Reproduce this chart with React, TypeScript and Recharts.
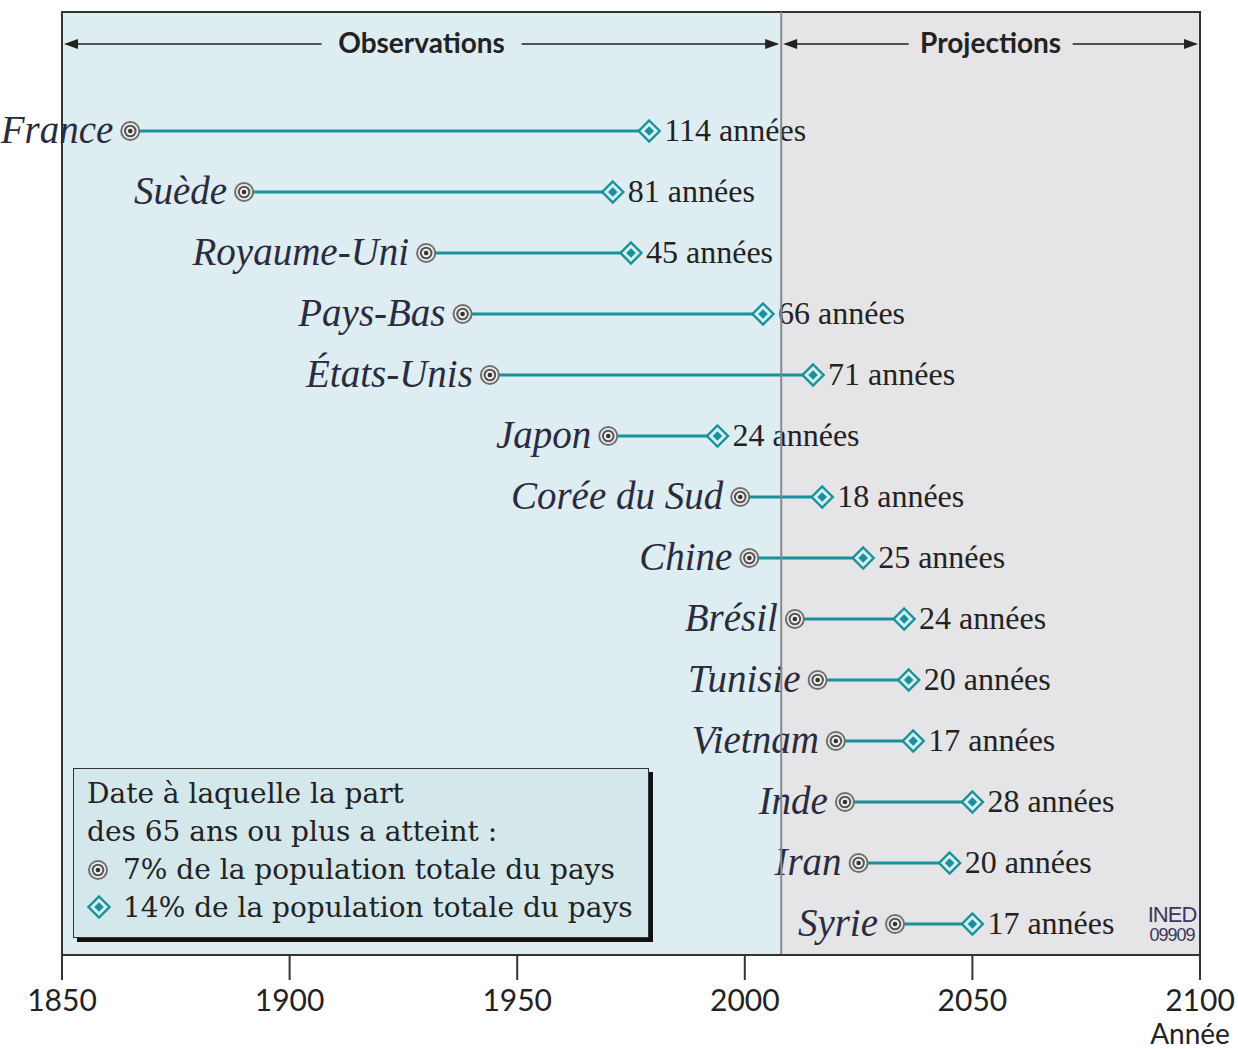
import React from "react";
import { ComposedChart, Bar, XAxis, YAxis, ReferenceArea, ReferenceLine } from "recharts";

const countries = ["France", "Suède", "Royaume-Uni", "Pays-Bas", "États-Unis", "Japon", "Corée du Sud", "Chine", "Brésil", "Tunisie", "Vietnam", "Inde", "Iran", "Syrie"];
const year7 = [1865, 1890, 1930, 1938, 1944, 1970, 1999, 2001, 2011, 2016, 2020, 2022, 2025, 2033];
const year14 = [1979, 1971, 1975, 2004, 2015, 1994, 2017, 2026, 2035, 2036, 2037, 2050, 2045, 2050];
const durations = [114, 81, 45, 66, 71, 24, 18, 25, 24, 20, 17, 28, 20, 17];
const xTicks = [1850, 1900, 1950, 2000, 2050, 2100];
const splitYear = 2008;

const rows = countries.map((c, i) => ({
    country: c,
    range: [year7[i], year14[i]],
    years: durations[i],
}));

const SERIF = "'Liberation Serif', 'DejaVu Serif', serif";
const LEGEND_SERIF = "'DejaVu Serif', serif";
const SANS = "Lato, 'Open Sans', sans-serif";
const TEAL = "#17919b";
const BLUE_BG = "#deedf2";
const GREY_BG = "#e5e4e7";

function Target({ cx, cy }: { cx: number; cy: number }) {
    return (
        <g>
            <circle cx={cx} cy={cy} r={10} fill="#6f6f6f" />
            <circle cx={cx} cy={cy} r={8} fill="#efefef" />
            <circle cx={cx} cy={cy} r={6.3} fill="#555" />
            <circle cx={cx} cy={cy} r={4.3} fill="#efefef" />
            <circle cx={cx} cy={cy} r={2.3} fill="#333" />
        </g>
    );
}

function Diamond({ cx, cy }: { cx: number; cy: number }) {
    const d = (s: number) => `M${cx},${cy - s} L${cx + s},${cy} L${cx},${cy + s} L${cx - s},${cy} Z`;
    return (
        <g>
            <path d={d(10.5)} fill="#d6eef0" stroke={TEAL} strokeWidth={2.4} />
            <path d={d(4.8)} fill={TEAL} />
        </g>
    );
}

function RowMark(props: any) {
    const { x, y, width, height, payload } = props;
    const cy = y + height / 2;
    const x0 = x;
    const x1 = x + width;
    return (
        <g>
            <line x1={x0} y1={cy} x2={x1} y2={cy} stroke={TEAL} strokeWidth={3} />
            <Target cx={x0} cy={cy} />
            <Diamond cx={x1} cy={cy} />
            <text x={x0 - 17} y={cy + 12} textAnchor="end" fontFamily={SERIF} fontStyle="italic" fontSize={39} fill="#2b2b40">
                {payload.country}
            </text>
            <text x={x1 + 15} y={cy + 10} fontFamily={SERIF} fontSize={32} fill="#222">
                {payload.years} années
            </text>
        </g>
    );
}

function HeaderArrow(props: any) {
    const { viewBox, text, half } = props;
    const { x, y, width } = viewBox;
    const ay = y + 32;
    const mid = x + width / 2;
    return (
        <g>
            <line x1={x + 4} y1={ay} x2={mid - half} y2={ay} stroke="#222" strokeWidth={1.5} />
            <line x1={mid + half} y1={ay} x2={x + width - 4} y2={ay} stroke="#222" strokeWidth={1.5} />
            <path d={`M${x + 2},${ay} L${x + 16},${ay - 5} L${x + 16},${ay + 5} Z`} fill="#222" />
            <path d={`M${x + width - 2},${ay} L${x + width - 16},${ay - 5} L${x + width - 16},${ay + 5} Z`} fill="#222" />
            <text x={mid} y={ay + 9} textAnchor="middle" fontFamily={SANS} fontWeight={700} fontSize={28} fill="#222">
                {text}
            </text>
        </g>
    );
}

function AnneeLabel(props: any) {
    const { viewBox } = props;
    return (
        <text x={viewBox.x + viewBox.width - 10} y={viewBox.y + 89} textAnchor="middle" fontFamily={SANS} fontSize={28} fill="#222">
            Année
        </text>
    );
}

export default function App() {
    return (
        <div style={{ position: "absolute", left: 0, top: 0, width: 1238, height: 1049, background: "#fff" }}>
            <ComposedChart
                width={1238}
                height={1049}
                data={rows}
                layout="vertical"
                margin={{ top: 12, right: 38, bottom: 0, left: 62 }}
            >
                <XAxis
                    type="number"
                    domain={[1850, 2100]}
                    ticks={xTicks}
                    height={94}
                    tickSize={25}
                    tickMargin={10}
                    axisLine={{ stroke: "#333", strokeWidth: 2 }}
                    tickLine={{ stroke: "#333", strokeWidth: 2 }}
                    tick={{ fill: "#222", fontSize: 30, fontFamily: SANS }}
                    label={<AnneeLabel />}
                />
                <YAxis type="category" dataKey="country" hide width={0} padding={{ top: 88, bottom: 1 }} />
                <YAxis yAxisId="frame" type="number" domain={[0, 1]} hide width={0} />
                <ReferenceArea
                    yAxisId="frame"
                    x1={1850}
                    x2={splitYear}
                    fill={BLUE_BG}
                    fillOpacity={1}
                    label={<HeaderArrow text="Observations" half={100} />}
                />
                <ReferenceArea
                    yAxisId="frame"
                    x1={splitYear}
                    x2={2100}
                    fill={GREY_BG}
                    fillOpacity={1}
                    label={<HeaderArrow text="Projections" half={82} />}
                />
                <ReferenceLine yAxisId="frame" x={splitYear} stroke="#8a8a8a" strokeWidth={2} />
                <ReferenceArea yAxisId="frame" x1={1850} x2={2100} fill="none" stroke="#333" strokeWidth={2} />
                <Bar dataKey="range" barSize={20} isAnimationActive={false} shape={(p: any) => <RowMark {...p} />} />
            </ComposedChart>
            <div
                style={{
                    position: "absolute",
                    left: 73,
                    top: 768,
                    width: 576,
                    height: 170,
                    boxSizing: "border-box",
                    background: "#d4e7eb",
                    border: "1.5px solid #333",
                    boxShadow: "4px 4px 0 #111",
                    fontFamily: LEGEND_SERIF,
                    fontSize: 28,
                    lineHeight: "38px",
                    color: "#222",
                    padding: "6px 0 0 13px",
                    whiteSpace: "nowrap",
                }}
            >
                <div>Date à laquelle la part</div>
                <div>des 65 ans ou plus a atteint :</div>
                <div>
                    <svg width={22} height={22} style={{ marginRight: 14, verticalAlign: "-2px" }}>
                        <Target cx={11} cy={11} />
                    </svg>
                    7% de la population totale du pays
                </div>
                <div>
                    <svg width={24} height={24} style={{ marginRight: 12, verticalAlign: "-2px" }}>
                        <Diamond cx={12} cy={12} />
                    </svg>
                    14% de la population totale du pays
                </div>
            </div>
            <div
                style={{
                    position: "absolute",
                    left: 1146,
                    top: 904,
                    width: 52,
                    textAlign: "center",
                    fontFamily: "'Liberation Sans Narrow', 'Liberation Sans', sans-serif",
                    color: "#3d3560",
                    lineHeight: "21px",
                }}
            >
                <div style={{ fontSize: 22, letterSpacing: -1 }}>INED</div>
                <div style={{ fontSize: 18, letterSpacing: -1 }}>09909</div>
            </div>
        </div>
    );
}
